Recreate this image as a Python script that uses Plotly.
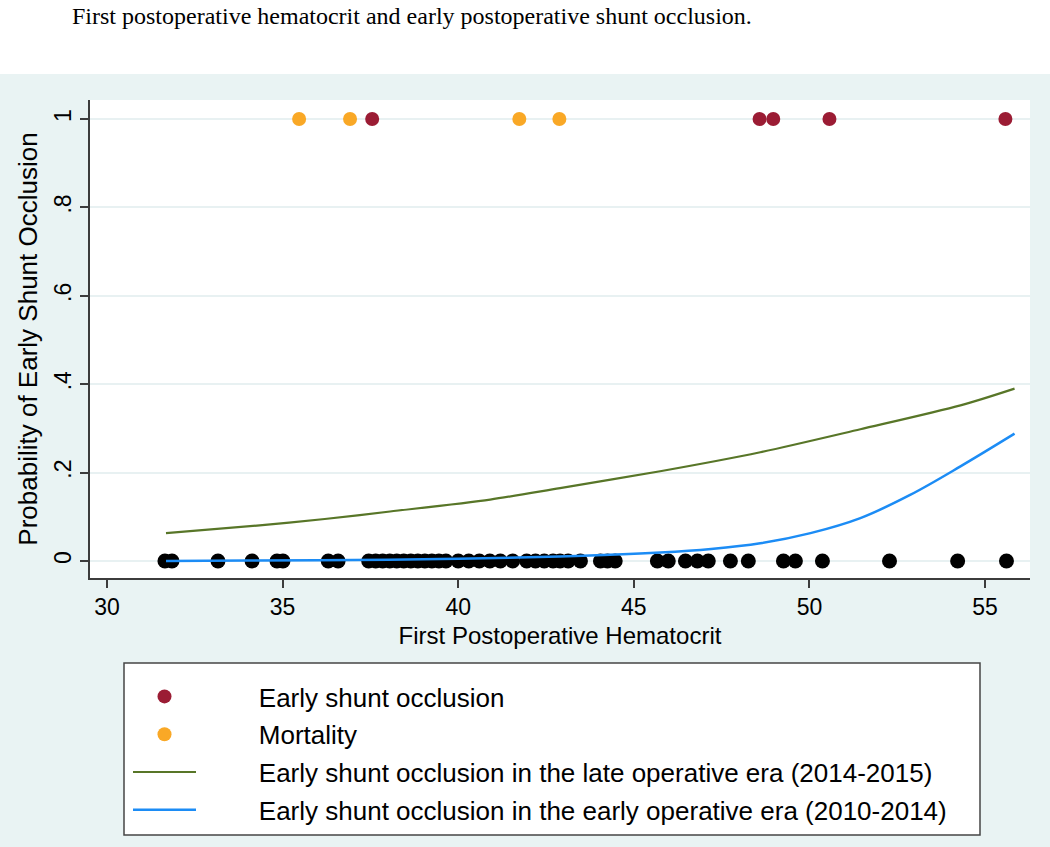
import plotly.graph_objects as go

# ---------------- data ----------------
no_event_hct = [31.65, 31.85, 33.16, 34.13, 34.84, 35.01, 36.30, 36.58,
                37.45, 37.65, 37.85, 38.05, 38.25, 38.45, 38.65, 38.85, 39.05, 39.25, 39.45, 39.65,
                40.0, 40.3, 40.6, 40.9, 41.2, 41.55,
                41.95, 42.2, 42.45, 42.7, 42.9, 43.13, 43.48,
                44.05, 44.25, 44.47,
                45.67, 45.98, 46.47, 46.81, 47.12, 47.75, 48.26,
                49.26, 49.6, 50.37, 52.28, 54.22, 55.61]
no_event_y = [0] * len(no_event_hct)

occlusion_hct = [37.55, 48.58, 48.97, 50.57, 55.58]
occlusion_y = [1, 1, 1, 1, 1]

mortality_hct = [35.47, 36.92, 41.74, 42.88]
mortality_y = [1, 1, 1, 1]

late_era_hct = [31.68, 34.27, 36.2, 38.06, 40.91, 42.9, 45.75, 48.6, 51.45, 54.3, 55.84]
late_era_prob = [0.063, 0.080, 0.095, 0.112, 0.139, 0.165, 0.203, 0.246, 0.298, 0.352, 0.390]

early_era_hct = [31.68, 34.0, 37.0, 40.0, 42.9, 45.75, 47.2, 48.6, 50.03, 51.45, 52.88, 54.3, 55.84]
early_era_prob = [0.0, 0.001, 0.002, 0.005, 0.010, 0.019, 0.027, 0.040, 0.063, 0.097, 0.150, 0.214, 0.288]

x_ticks = [30, 35, 40, 45, 50, 55]
y_ticks = [0, 0.2, 0.4, 0.6, 0.8, 1]
y_tick_labels = ["0", ".2", ".4", ".6", ".8", "1"]

title_text = "First postoperative hematocrit and early postoperative shunt occlusion."
series_names = ["Early shunt occlusion", "Mortality",
                "Early shunt occlusion in the late operative era (2014-2015)",
                "Early shunt occlusion in the early operative era (2010-2014)"]

# ---------------- figure ----------------
W, H = 1050, 847
L, R, T, B = 90, 20, 100, 269
pw, ph = W - L - R, H - T - B


def px_x(p):
    return (p - L) / pw


def px_y(p):
    return (H - B - p) / ph


FONT = "Liberation Sans, Arial, Helvetica, sans-serif"
RED = "rgb(155,28,52)"
ORANGE = "rgb(249,168,38)"
GREEN = "rgb(88,118,40)"
BLUE = "rgb(28,140,245)"
BG = "rgb(233,243,243)"
PAD = "\u00a0" * 8  # gap between legend symbol and its label

fig = go.Figure()

fig.add_trace(go.Scatter(x=no_event_hct, y=no_event_y, mode="markers",
                         marker=dict(color="black", size=15), showlegend=False,
                         hoverinfo="x"))
fig.add_trace(go.Scatter(x=occlusion_hct, y=occlusion_y, mode="markers", name=PAD + series_names[0],
                         marker=dict(color=RED, size=14), legendgroup="a"))
fig.add_trace(go.Scatter(x=mortality_hct, y=mortality_y, mode="markers", name=PAD + series_names[1],
                         marker=dict(color=ORANGE, size=14), legendgroup="b"))
fig.add_trace(go.Scatter(x=late_era_hct, y=late_era_prob, mode="lines", name=PAD + series_names[2],
                         line=dict(color=GREEN, width=2.2, shape="spline", smoothing=0.8), legendgroup="c"))
fig.add_trace(go.Scatter(x=early_era_hct, y=early_era_prob, mode="lines", name=PAD + series_names[3],
                         line=dict(color=BLUE, width=2.5, shape="spline"), legendgroup="d"))

shapes = [
    # white strip at the top of the page
    dict(type="rect", xref="paper", yref="paper", x0=px_x(0), x1=px_x(W), y0=px_y(74), y1=px_y(0),
         fillcolor="white", line=dict(width=0), layer="below"),
    # legend box
    dict(type="rect", xref="paper", yref="paper", x0=px_x(124), x1=px_x(980), y0=px_y(835), y1=px_y(663),
         fillcolor="white", line=dict(color="rgb(70,70,70)", width=1.5), layer="below"),
]

fig.update_layout(
    width=W, height=H,
    margin=dict(l=L, r=R, t=T, b=B, pad=0),
    paper_bgcolor=BG, plot_bgcolor="white",
    font=dict(family=FONT, size=22, color="black"),
    shapes=shapes,
    annotations=[dict(text=title_text, xref="paper", yref="paper", x=px_x(70), y=px_y(1),
                      xanchor="left", yanchor="top", showarrow=False,
                      font=dict(family="Liberation Serif, Times New Roman, serif", size=24, color="black"))],
    xaxis=dict(range=[29.516, 56.28], tickvals=x_ticks, ticks="outside", ticklen=8, tickwidth=1.5,
               tickcolor="rgb(60,60,60)", showline=True, linecolor="rgb(60,60,60)", linewidth=1.5,
               showgrid=False, zeroline=False, tickfont=dict(size=23),
               title=dict(text="First Postoperative Hematocrit", font=dict(size=24), standoff=8)),
    yaxis=dict(range=[-0.0385, 1.043], tickvals=y_ticks, ticktext=y_tick_labels, tickangle=-90,
               ticks="outside", ticklen=8, tickwidth=1.5, tickcolor="rgb(60,60,60)",
               showline=True, linecolor="rgb(60,60,60)", linewidth=1.5,
               showgrid=True, gridcolor="rgb(232,241,242)", gridwidth=1.5, zeroline=False,
               tickfont=dict(size=23),
               title=dict(text="Probability of Early Shunt Occlusion", font=dict(size=26), standoff=5)),
    legend=dict(x=px_x(128), y=px_y(673), xanchor="left", yanchor="top",
                bgcolor="rgba(0,0,0,0)", borderwidth=0, itemwidth=63,
                traceorder="grouped", tracegroupgap=1,
                font=dict(size=26, color="black")),
    hovermode="closest",
)

fig.write_html("out.html", config={"displayModeBar": False},
               post_script="document.body.style.margin='0px';")
